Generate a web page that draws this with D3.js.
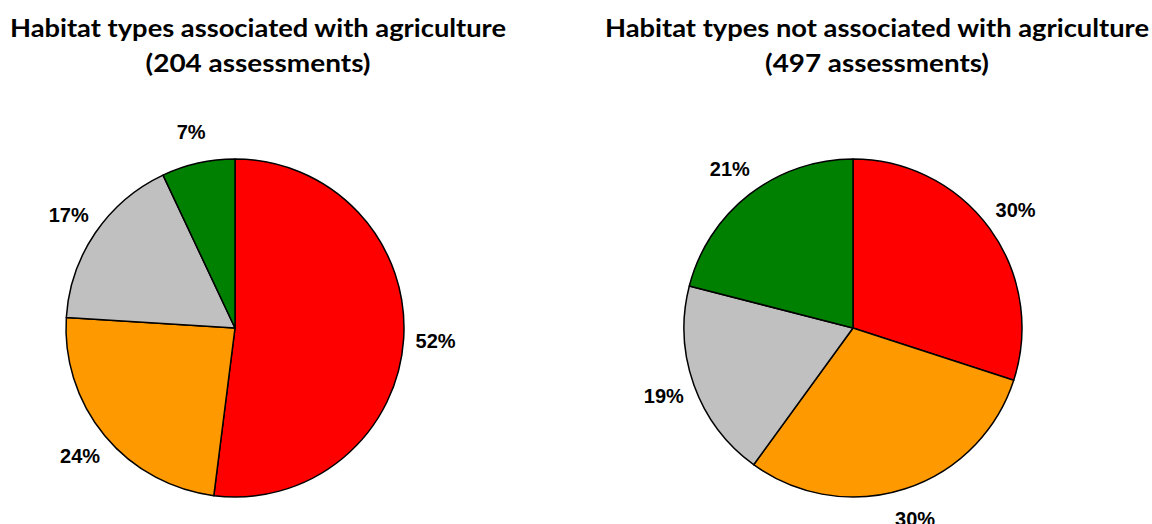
<!DOCTYPE html>
<html>
<head>
<meta charset="utf-8">
<script src="https://cdn.jsdelivr.net/npm/d3@7"></script>
<style>
    html, body { margin: 0; padding: 0; background: #fff; }
    svg { display: block; }
</style>
</head>
<body>
<script>
    // chart data
    var categories = ["Unfavourable-bad", "Unfavourable-inadequate", "Unknown", "Favourable"];
    var colors = ["#FF0000", "#FF9900", "#C0C0C0", "#008000"];
    var agriValues = [52, 24, 17, 7];
    var nonAgriValues = [30, 30, 19, 21];
    var titles = [
        ["Habitat types associated with agriculture", "(204 assessments)"],
        ["Habitat types not associated with agriculture", "(497 assessments)"]
    ];

    var width = 1152, height = 524;
    var radius = 169;
    var labelRadius = 201;

    var svg = d3.select("body")
        .append("svg")
        .attr("width", width)
        .attr("height", height);

    var pie = d3.pie()
        .sort(null)
        .value(function (d) { return d; });

    var arc = d3.arc()
        .innerRadius(0)
        .outerRadius(radius);

    var labelArc = d3.arc()
        .innerRadius(labelRadius)
        .outerRadius(labelRadius);

    var percent = function (d) { return d + "%"; };

    var panels = [
        { values: agriValues, cx: 235, cy: 328, titleX: 258, titleW: [496, 225] },
        { values: nonAgriValues, cx: 853, cy: 328, titleX: 877, titleW: [544, 224] }
    ];

    panels.forEach(function (p, i) {
        // title, two lines
        var title = svg.append("text")
            .attr("text-anchor", "middle")
            .style("font-family", "Lato, 'Open Sans', sans-serif")
            .style("font-weight", "bold")
            .style("font-size", "24px")
            .style("fill", "#000");

        titles[i].forEach(function (line, j) {
            title.append("tspan")
                .attr("x", p.titleX)
                .attr("y", 37 + j * 35)
                .attr("textLength", p.titleW[j])
                .attr("lengthAdjust", "spacingAndGlyphs")
                .text(line);
        });

        var g = svg.append("g")
            .attr("transform", "translate(" + p.cx + "," + p.cy + ")");

        var slices = pie(p.values);

        g.selectAll("path")
            .data(slices)
            .enter()
            .append("path")
            .attr("d", arc)
            .style("fill", function (d, k) { return colors[k]; })
            .style("stroke", "#000")
            .style("stroke-width", 1.5)
            .style("stroke-linejoin", "round");

        g.selectAll("text")
            .data(slices)
            .enter()
            .append("text")
            .attr("transform", function (d) { return "translate(" + labelArc.centroid(d) + ")"; })
            .attr("dy", "0.36em")
            .attr("text-anchor", "middle")
            .style("font-family", "'Liberation Sans', Arial, sans-serif")
            .style("font-weight", "bold")
            .style("font-size", "20px")
            .style("fill", "#000")
            .text(function (d) { return percent(d.data); });
    });
</script>
</body>
</html>
